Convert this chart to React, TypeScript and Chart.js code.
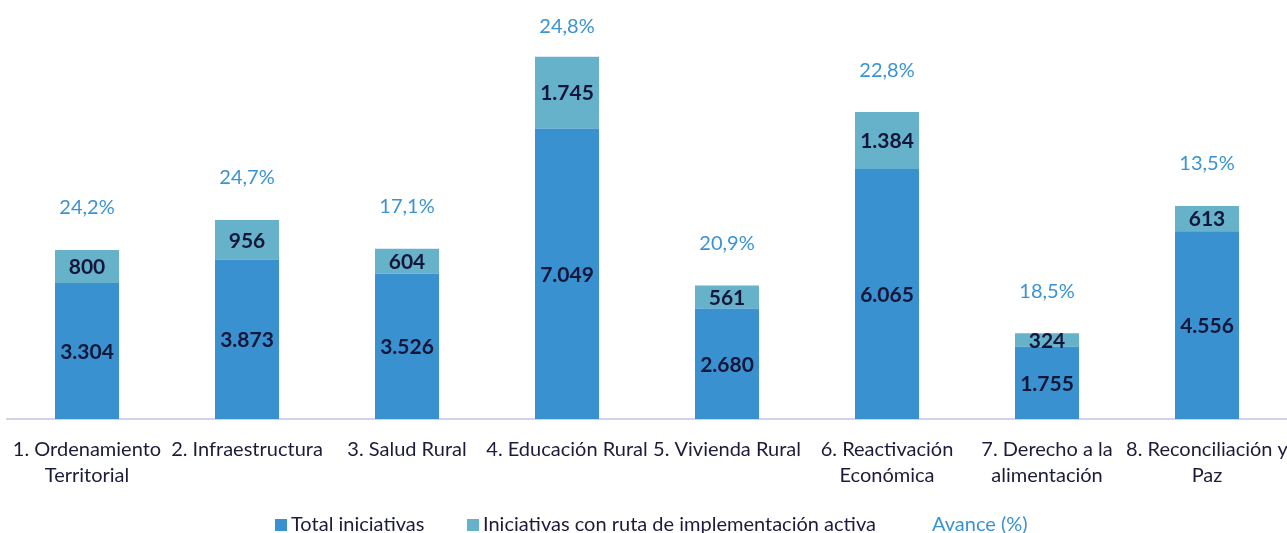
import React, { useEffect, useRef } from "react";
import { Chart, registerables } from "chart.js";

Chart.register(...registerables);

const categories: (string | string[])[] = [
  ["1. Ordenamiento", "Territorial"],
  "2. Infraestructura",
  "3. Salud Rural",
  "4. Educación Rural",
  "5. Vivienda Rural",
  ["6. Reactivación", "Económica"],
  ["7. Derecho a la", "alimentación"],
  ["8. Reconciliación y", "Paz"],
];
const totalIniciativas = [3304, 3873, 3526, 7049, 2680, 6065, 1755, 4556];
const rutaActiva = [800, 956, 604, 1745, 561, 1384, 324, 613];
const avance = [24.2, 24.7, 17.1, 24.8, 20.9, 22.8, 18.5, 13.5];
const seriesNames = ["Total iniciativas", "Iniciativas con ruta de implementación activa", "Avance (%)"];

const DARK = "#3a91cf";
const LIGHT = "#67b2cb";
const LABEL = "#14163a";
const TEXT = "#1c1c3a";
const AVANCE = "#3a93d4";
const FONT = "Lato, 'Noto Sans', sans-serif";

const fmt = (v: number) => v.toLocaleString("de-DE");
const fmtPct = (v: number) => v.toFixed(1).replace(".", ",") + "%";

const labelPlugin = {
  id: "barLabels",
  afterDatasetsDraw(chart: any) {
    const ctx = chart.ctx;
    ctx.save();
    ctx.textAlign = "center";
    ctx.textBaseline = "middle";
    ctx.font = `bold 21px ${FONT}`;
    ctx.fillStyle = LABEL;
    chart.data.datasets.forEach((ds: any, di: number) => {
      const meta = chart.getDatasetMeta(di);
      meta.data.forEach((el: any, i: number) => {
        const { x, y, base } = el.getProps(["x", "y", "base"], true);
        ctx.fillText(fmt(ds.data[i]), x, (y + base) / 2 + 1);
      });
    });
    const top = chart.getDatasetMeta(1);
    ctx.font = `20px ${FONT}`;
    ctx.fillStyle = AVANCE;
    top.data.forEach((el: any, i: number) => {
      const { x, y } = el.getProps(["x", "y"], true);
      ctx.fillText(fmtPct(avance[i]), x, Math.max(y - 42, 27));
    });
    ctx.restore();
  },
};

export default function App() {
  const ref = useRef<HTMLCanvasElement>(null);
  useEffect(() => {
    if (!ref.current) return;
    const chart = new Chart(ref.current, {
      type: "bar",
      data: {
        labels: categories,
        datasets: [
          {
            label: seriesNames[0],
            data: totalIniciativas,
            backgroundColor: DARK,
            barPercentage: 0.4,
            categoryPercentage: 1,
          },
          {
            label: seriesNames[1],
            data: rutaActiva,
            backgroundColor: LIGHT,
            barPercentage: 0.4,
            categoryPercentage: 1,
          },
        ],
      },
      options: {
        animation: false,
        responsive: true,
        maintainAspectRatio: false,
        layout: { padding: { left: 7, right: 0, top: 7, bottom: 26 } },
        scales: {
          x: {
            stacked: true,
            grid: { display: false, drawTicks: false },
            border: { display: true, color: "#d4d0f0", width: 2 },
            ticks: {
              color: TEXT,
              font: { family: FONT, size: 20, lineHeight: 1.3 },
              padding: 18,
              maxRotation: 0,
              autoSkip: false,
            },
            afterFit: (scale: any) => {
              scale.paddingLeft = 0;
              scale.paddingRight = 0;
            },
          },
          y: {
            stacked: true,
            display: false,
            min: 0,
            max: 10000,
          },
        },
        plugins: {
          tooltip: { enabled: false },
          legend: { display: false },
        },
      },
      plugins: [labelPlugin],
    });
    return () => chart.destroy();
  }, []);

  const legendItem = (left: number, color: string | null, text: string, textColor: string) => (
    <div
      style={{
        position: "absolute",
        left,
        top: 511,
        height: 24,
        display: "flex",
        alignItems: "center",
        fontFamily: FONT,
        fontSize: 20,
        color: textColor,
        whiteSpace: "nowrap",
      }}
    >
      {color && <span style={{ display: "inline-block", width: 12, height: 12, background: color, marginRight: 4, marginTop: 3 }} />}
      <span>{text}</span>
    </div>
  );

  return (
    <div style={{ position: "absolute", left: 0, top: 0, width: 1287, height: 533, background: "#fff", overflow: "hidden" }}>
      <canvas ref={ref} />
      {legendItem(275, DARK, seriesNames[0], TEXT)}
      {legendItem(467, LIGHT, seriesNames[1], TEXT)}
      {legendItem(932, null, seriesNames[2], AVANCE)}
    </div>
  );
}
